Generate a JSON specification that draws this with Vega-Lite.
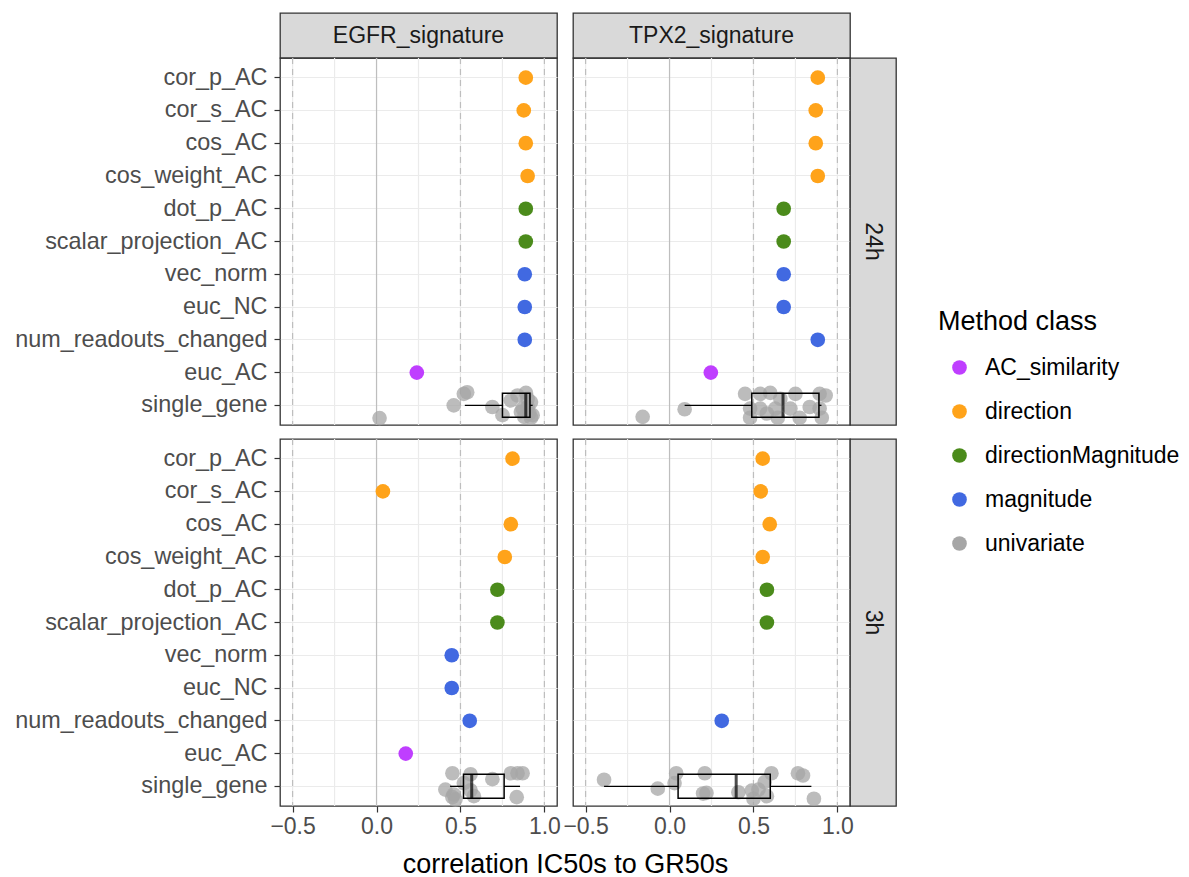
{
"$schema":"https://vega.github.io/schema/vega-lite/v6.json",
"padding":{"left":14,"top":12,"right":10,"bottom":5},
"datasets":{
"vl":[{"v":-0.5,"kind":"grid"},{"v":-0.25,"kind":"grid"},{"v":0,"kind":"grid"},{"v":0.25,"kind":"grid"},{"v":0.5,"kind":"grid"},{"v":0.75,"kind":"grid"},{"v":1,"kind":"grid"},{"v":0,"kind":"zero"},{"v":-0.5,"kind":"dashed"},{"v":0.5,"kind":"dashed"},{"v":1,"kind":"dashed"}],
"pts":[
{"sig":"EGFR","time":"24h","m":"cor_p_AC","c":"direction","r":0.889},
{"sig":"EGFR","time":"24h","m":"cor_s_AC","c":"direction","r":0.877},
{"sig":"EGFR","time":"24h","m":"cos_AC","c":"direction","r":0.889},
{"sig":"EGFR","time":"24h","m":"cos_weight_AC","c":"direction","r":0.900},
{"sig":"EGFR","time":"24h","m":"dot_p_AC","c":"directionMagnitude","r":0.889},
{"sig":"EGFR","time":"24h","m":"scalar_projection_AC","c":"directionMagnitude","r":0.889},
{"sig":"EGFR","time":"24h","m":"vec_norm","c":"magnitude","r":0.883},
{"sig":"EGFR","time":"24h","m":"euc_NC","c":"magnitude","r":0.883},
{"sig":"EGFR","time":"24h","m":"num_readouts_changed","c":"magnitude","r":0.883},
{"sig":"EGFR","time":"24h","m":"euc_AC","c":"AC_similarity","r":0.240},
{"sig":"TPX2","time":"24h","m":"cor_p_AC","c":"direction","r":0.883},
{"sig":"TPX2","time":"24h","m":"cor_s_AC","c":"direction","r":0.871},
{"sig":"TPX2","time":"24h","m":"cos_AC","c":"direction","r":0.871},
{"sig":"TPX2","time":"24h","m":"cos_weight_AC","c":"direction","r":0.883},
{"sig":"TPX2","time":"24h","m":"dot_p_AC","c":"directionMagnitude","r":0.680},
{"sig":"TPX2","time":"24h","m":"scalar_projection_AC","c":"directionMagnitude","r":0.680},
{"sig":"TPX2","time":"24h","m":"vec_norm","c":"magnitude","r":0.680},
{"sig":"TPX2","time":"24h","m":"euc_NC","c":"magnitude","r":0.680},
{"sig":"TPX2","time":"24h","m":"num_readouts_changed","c":"magnitude","r":0.883},
{"sig":"TPX2","time":"24h","m":"euc_AC","c":"AC_similarity","r":0.246},
{"sig":"EGFR","time":"3h","m":"cor_p_AC","c":"direction","r":0.810},
{"sig":"EGFR","time":"3h","m":"cor_s_AC","c":"direction","r":0.038},
{"sig":"EGFR","time":"3h","m":"cos_AC","c":"direction","r":0.800},
{"sig":"EGFR","time":"3h","m":"cos_weight_AC","c":"direction","r":0.764},
{"sig":"EGFR","time":"3h","m":"dot_p_AC","c":"directionMagnitude","r":0.720},
{"sig":"EGFR","time":"3h","m":"scalar_projection_AC","c":"directionMagnitude","r":0.720},
{"sig":"EGFR","time":"3h","m":"vec_norm","c":"magnitude","r":0.448},
{"sig":"EGFR","time":"3h","m":"euc_NC","c":"magnitude","r":0.448},
{"sig":"EGFR","time":"3h","m":"num_readouts_changed","c":"magnitude","r":0.555},
{"sig":"EGFR","time":"3h","m":"euc_AC","c":"AC_similarity","r":0.174},
{"sig":"TPX2","time":"3h","m":"cor_p_AC","c":"direction","r":0.555},
{"sig":"TPX2","time":"3h","m":"cor_s_AC","c":"direction","r":0.543},
{"sig":"TPX2","time":"3h","m":"cos_AC","c":"direction","r":0.597},
{"sig":"TPX2","time":"3h","m":"cos_weight_AC","c":"direction","r":0.555},
{"sig":"TPX2","time":"3h","m":"dot_p_AC","c":"directionMagnitude","r":0.580},
{"sig":"TPX2","time":"3h","m":"scalar_projection_AC","c":"directionMagnitude","r":0.580},
{"sig":"TPX2","time":"3h","m":"num_readouts_changed","c":"magnitude","r":0.311}
],
"sg":[
{"sig":"EGFR","time":"24h","m":"single_gene","c":"univariate","r":0.018,"j":0.39},
{"sig":"EGFR","time":"24h","m":"single_gene","c":"univariate","r":0.46,"j":0.0},
{"sig":"EGFR","time":"24h","m":"single_gene","c":"univariate","r":0.52,"j":-0.35},
{"sig":"EGFR","time":"24h","m":"single_gene","c":"univariate","r":0.54,"j":-0.4},
{"sig":"EGFR","time":"24h","m":"single_gene","c":"univariate","r":0.69,"j":0.05},
{"sig":"EGFR","time":"24h","m":"single_gene","c":"univariate","r":0.75,"j":0.3},
{"sig":"EGFR","time":"24h","m":"single_gene","c":"univariate","r":0.80,"j":-0.15},
{"sig":"EGFR","time":"24h","m":"single_gene","c":"univariate","r":0.84,"j":-0.3},
{"sig":"EGFR","time":"24h","m":"single_gene","c":"univariate","r":0.86,"j":0.2},
{"sig":"EGFR","time":"24h","m":"single_gene","c":"univariate","r":0.87,"j":0.1},
{"sig":"EGFR","time":"24h","m":"single_gene","c":"univariate","r":0.88,"j":0.35},
{"sig":"EGFR","time":"24h","m":"single_gene","c":"univariate","r":0.89,"j":-0.38},
{"sig":"EGFR","time":"24h","m":"single_gene","c":"univariate","r":0.90,"j":0.05},
{"sig":"EGFR","time":"24h","m":"single_gene","c":"univariate","r":0.90,"j":-0.2},
{"sig":"EGFR","time":"24h","m":"single_gene","c":"univariate","r":0.91,"j":0.25},
{"sig":"EGFR","time":"24h","m":"single_gene","c":"univariate","r":0.92,"j":-0.1},
{"sig":"EGFR","time":"24h","m":"single_gene","c":"univariate","r":0.92,"j":0.38},
{"sig":"EGFR","time":"24h","m":"single_gene","c":"univariate","r":0.93,"j":0.3},
{"sig":"TPX2","time":"24h","m":"single_gene","c":"univariate","r":-0.16,"j":0.35},
{"sig":"TPX2","time":"24h","m":"single_gene","c":"univariate","r":0.09,"j":0.12},
{"sig":"TPX2","time":"24h","m":"single_gene","c":"univariate","r":0.45,"j":-0.35},
{"sig":"TPX2","time":"24h","m":"single_gene","c":"univariate","r":0.48,"j":0.1},
{"sig":"TPX2","time":"24h","m":"single_gene","c":"univariate","r":0.48,"j":0.38},
{"sig":"TPX2","time":"24h","m":"single_gene","c":"univariate","r":0.54,"j":-0.35},
{"sig":"TPX2","time":"24h","m":"single_gene","c":"univariate","r":0.54,"j":0.1},
{"sig":"TPX2","time":"24h","m":"single_gene","c":"univariate","r":0.58,"j":0.25},
{"sig":"TPX2","time":"24h","m":"single_gene","c":"univariate","r":0.60,"j":-0.38},
{"sig":"TPX2","time":"24h","m":"single_gene","c":"univariate","r":0.63,"j":0.1},
{"sig":"TPX2","time":"24h","m":"single_gene","c":"univariate","r":0.645,"j":0.38},
{"sig":"TPX2","time":"24h","m":"single_gene","c":"univariate","r":0.66,"j":-0.2},
{"sig":"TPX2","time":"24h","m":"single_gene","c":"univariate","r":0.72,"j":0.1},
{"sig":"TPX2","time":"24h","m":"single_gene","c":"univariate","r":0.75,"j":-0.35},
{"sig":"TPX2","time":"24h","m":"single_gene","c":"univariate","r":0.775,"j":0.38},
{"sig":"TPX2","time":"24h","m":"single_gene","c":"univariate","r":0.835,"j":0.05},
{"sig":"TPX2","time":"24h","m":"single_gene","c":"univariate","r":0.894,"j":-0.35},
{"sig":"TPX2","time":"24h","m":"single_gene","c":"univariate","r":0.894,"j":0.1},
{"sig":"TPX2","time":"24h","m":"single_gene","c":"univariate","r":0.907,"j":0.38},
{"sig":"TPX2","time":"24h","m":"single_gene","c":"univariate","r":0.93,"j":-0.3},
{"sig":"EGFR","time":"3h","m":"single_gene","c":"univariate","r":0.41,"j":0.1},
{"sig":"EGFR","time":"3h","m":"single_gene","c":"univariate","r":0.452,"j":-0.4},
{"sig":"EGFR","time":"3h","m":"single_gene","c":"univariate","r":0.452,"j":0.33},
{"sig":"EGFR","time":"3h","m":"single_gene","c":"univariate","r":0.46,"j":0.25},
{"sig":"EGFR","time":"3h","m":"single_gene","c":"univariate","r":0.47,"j":0.4},
{"sig":"EGFR","time":"3h","m":"single_gene","c":"univariate","r":0.52,"j":-0.1},
{"sig":"EGFR","time":"3h","m":"single_gene","c":"univariate","r":0.56,"j":-0.37},
{"sig":"EGFR","time":"3h","m":"single_gene","c":"univariate","r":0.56,"j":0.12},
{"sig":"EGFR","time":"3h","m":"single_gene","c":"univariate","r":0.58,"j":0.3},
{"sig":"EGFR","time":"3h","m":"single_gene","c":"univariate","r":0.69,"j":-0.22},
{"sig":"EGFR","time":"3h","m":"single_gene","c":"univariate","r":0.80,"j":-0.4},
{"sig":"EGFR","time":"3h","m":"single_gene","c":"univariate","r":0.835,"j":0.33},
{"sig":"EGFR","time":"3h","m":"single_gene","c":"univariate","r":0.84,"j":-0.4},
{"sig":"EGFR","time":"3h","m":"single_gene","c":"univariate","r":0.87,"j":-0.4},
{"sig":"TPX2","time":"3h","m":"single_gene","c":"univariate","r":-0.39,"j":-0.2},
{"sig":"TPX2","time":"3h","m":"single_gene","c":"univariate","r":-0.07,"j":0.07},
{"sig":"TPX2","time":"3h","m":"single_gene","c":"univariate","r":0.03,"j":-0.1},
{"sig":"TPX2","time":"3h","m":"single_gene","c":"univariate","r":0.04,"j":-0.4},
{"sig":"TPX2","time":"3h","m":"single_gene","c":"univariate","r":0.20,"j":0.22},
{"sig":"TPX2","time":"3h","m":"single_gene","c":"univariate","r":0.21,"j":-0.4},
{"sig":"TPX2","time":"3h","m":"single_gene","c":"univariate","r":0.22,"j":0.2},
{"sig":"TPX2","time":"3h","m":"single_gene","c":"univariate","r":0.41,"j":0.18},
{"sig":"TPX2","time":"3h","m":"single_gene","c":"univariate","r":0.49,"j":0.13},
{"sig":"TPX2","time":"3h","m":"single_gene","c":"univariate","r":0.50,"j":0.38},
{"sig":"TPX2","time":"3h","m":"single_gene","c":"univariate","r":0.53,"j":0.1},
{"sig":"TPX2","time":"3h","m":"single_gene","c":"univariate","r":0.567,"j":-0.13},
{"sig":"TPX2","time":"3h","m":"single_gene","c":"univariate","r":0.58,"j":0.3},
{"sig":"TPX2","time":"3h","m":"single_gene","c":"univariate","r":0.607,"j":-0.4},
{"sig":"TPX2","time":"3h","m":"single_gene","c":"univariate","r":0.765,"j":-0.4},
{"sig":"TPX2","time":"3h","m":"single_gene","c":"univariate","r":0.795,"j":-0.33},
{"sig":"TPX2","time":"3h","m":"single_gene","c":"univariate","r":0.86,"j":0.38}
],
"box":[
{"sig":"EGFR","time":"24h","m":"single_gene","lo":0.526,"q1":0.75,"med":0.889,"q3":0.914,"hi":0.93},
{"sig":"TPX2","time":"24h","m":"single_gene","lo":0.09,"q1":0.49,"med":0.676,"q3":0.89,"hi":0.905},
{"sig":"EGFR","time":"3h","m":"single_gene","lo":0.438,"q1":0.518,"med":0.567,"q3":0.76,"hi":0.855},
{"sig":"TPX2","time":"3h","m":"single_gene","lo":-0.39,"q1":0.051,"med":0.397,"q3":0.60,"hi":0.845}
]
},
"columns":4,
"spacing":0,
"bounds":"flush",
"align":"each",
"concat":[
{"width":277,"height":45,"view":{"fill":"#D9D9D9","stroke":"#333333","strokeWidth":1.3},"data":{"values":[{"label":"EGFR_signature"}]},"mark":{"type":"text","fontSize":23,"color":"#1A1A1A"},"encoding":{"text":{"field":"label"}}},
{"width":16,"height":14,"view":{"stroke":null},"data":{"values":[{"e":""}]},"mark":{"type":"text"},"encoding":{"text":{"field":"e"}}},
{"width":277,"height":45,"view":{"fill":"#D9D9D9","stroke":"#333333","strokeWidth":1.3},"data":{"values":[{"label":"TPX2_signature"}]},"mark":{"type":"text","fontSize":23,"color":"#1A1A1A"},"encoding":{"text":{"field":"label"}}},
{"width":16,"height":14,"view":{"stroke":null},"data":{"values":[{"e":""}]},"mark":{"type":"text"},"encoding":{"text":{"field":"e"}}},

{"width":277,"height":367,"view":{"stroke":"#333333","strokeWidth":1.3},
"layer":[
{"data":{"name":"vl"},"transform":[{"filter":"datum.kind==='grid'"}],"mark":{"type":"rule","color":"#EBEBEB","strokeWidth":1.2},"encoding":{"x":{"field":"v","type":"quantitative","scale":{"domain":[-0.575,1.075],"nice":false,"zero":false},"axis":null}}},
{"data":{"name":"vl"},"transform":[{"filter":"datum.kind==='zero'"}],"mark":{"type":"rule","color":"#BEBEBE","strokeWidth":1.2},"encoding":{"x":{"field":"v","type":"quantitative","scale":{"domain":[-0.575,1.075],"nice":false,"zero":false},"axis":null}}},
{"data":{"name":"vl"},"transform":[{"filter":"datum.kind==='dashed'"}],"mark":{"type":"rule","color":"#BEBEBE","strokeWidth":1.2,"strokeDash":[6,5]},"encoding":{"x":{"field":"v","type":"quantitative","scale":{"domain":[-0.575,1.075],"nice":false,"zero":false},"axis":null}}},
{"data":{"name":"pts"},"transform":[{"filter":"datum.sig==='EGFR' && datum.time==='24h'"}],"mark":{"type":"circle","size":215,"opacity":1},"encoding":{"x":{"field":"r","type":"quantitative","scale":{"domain":[-0.575,1.075],"nice":false,"zero":false},"axis":null},"y":{"field":"m","type":"nominal","scale":{"type":"band","domain":["cor_p_AC","cor_s_AC","cos_AC","cos_weight_AC","dot_p_AC","scalar_projection_AC","vec_norm","euc_NC","num_readouts_changed","euc_AC","single_gene"],"paddingInner":0,"paddingOuter":0.1},"axis":{"title":null,"grid":true,"bandPosition":0.5}},"color":{"field":"c","type":"nominal","scale":{"domain":["AC_similarity","direction","directionMagnitude","magnitude","univariate"],"range":["#BF3EFF","#FFA31A","#4B8B1B","#4169E1","#A6A6A6"]},"legend":{"title":"Method class","orient":"none","legendX":658,"legendY":296}}}},
{"data":{"name":"sg"},"transform":[{"filter":"datum.sig==='EGFR' && datum.time==='24h'"}],"mark":{"type":"circle","size":215,"opacity":0.75},"encoding":{"x":{"field":"r","type":"quantitative","scale":{"domain":[-0.575,1.075],"nice":false,"zero":false},"axis":null},"y":{"field":"m","type":"nominal","scale":{"type":"band","domain":["cor_p_AC","cor_s_AC","cos_AC","cos_weight_AC","dot_p_AC","scalar_projection_AC","vec_norm","euc_NC","num_readouts_changed","euc_AC","single_gene"],"paddingInner":0,"paddingOuter":0.1},"axis":{"title":null,"grid":true,"bandPosition":0.5}},"yOffset":{"field":"j","type":"quantitative","scale":{"domain":[-0.5,0.5],"range":[0,32.77]}},"color":{"field":"c","type":"nominal","scale":{"domain":["AC_similarity","direction","directionMagnitude","magnitude","univariate"],"range":["#BF3EFF","#FFA31A","#4B8B1B","#4169E1","#A6A6A6"]},"legend":{"title":"Method class","orient":"none","legendX":658,"legendY":296}}}},
{"data":{"name":"box"},"transform":[{"filter":"datum.sig==='EGFR' && datum.time==='24h'"}],"mark":{"type":"rule","color":"#000000","strokeWidth":1.3},"encoding":{"x":{"field":"lo","type":"quantitative","scale":{"domain":[-0.575,1.075],"nice":false,"zero":false},"axis":null},"x2":{"field":"q1"},"y":{"field":"m","type":"nominal","scale":{"type":"band","domain":["cor_p_AC","cor_s_AC","cos_AC","cos_weight_AC","dot_p_AC","scalar_projection_AC","vec_norm","euc_NC","num_readouts_changed","euc_AC","single_gene"],"paddingInner":0,"paddingOuter":0.1},"axis":{"title":null,"grid":true,"bandPosition":0.5}}}},
{"data":{"name":"box"},"transform":[{"filter":"datum.sig==='EGFR' && datum.time==='24h'"}],"mark":{"type":"rule","color":"#000000","strokeWidth":1.3},"encoding":{"x":{"field":"q3","type":"quantitative","scale":{"domain":[-0.575,1.075],"nice":false,"zero":false},"axis":null},"x2":{"field":"hi"},"y":{"field":"m","type":"nominal","scale":{"type":"band","domain":["cor_p_AC","cor_s_AC","cos_AC","cos_weight_AC","dot_p_AC","scalar_projection_AC","vec_norm","euc_NC","num_readouts_changed","euc_AC","single_gene"],"paddingInner":0,"paddingOuter":0.1},"axis":{"title":null,"grid":true,"bandPosition":0.5}}}},
{"data":{"name":"box"},"transform":[{"filter":"datum.sig==='EGFR' && datum.time==='24h'"}],"mark":{"type":"bar","fill":"transparent","stroke":"#000000","strokeWidth":1.5,"size":24},"encoding":{"x":{"field":"q1","type":"quantitative","scale":{"domain":[-0.575,1.075],"nice":false,"zero":false},"axis":null},"x2":{"field":"q3"},"y":{"field":"m","type":"nominal","scale":{"type":"band","domain":["cor_p_AC","cor_s_AC","cos_AC","cos_weight_AC","dot_p_AC","scalar_projection_AC","vec_norm","euc_NC","num_readouts_changed","euc_AC","single_gene"],"paddingInner":0,"paddingOuter":0.1},"axis":{"title":null,"grid":true,"bandPosition":0.5}}}},
{"data":{"name":"box"},"transform":[{"filter":"datum.sig==='EGFR' && datum.time==='24h'"}],"mark":{"type":"tick","color":"#000000","thickness":3,"size":24},"encoding":{"x":{"field":"med","type":"quantitative","scale":{"domain":[-0.575,1.075],"nice":false,"zero":false},"axis":null},"y":{"field":"m","type":"nominal","scale":{"type":"band","domain":["cor_p_AC","cor_s_AC","cos_AC","cos_weight_AC","dot_p_AC","scalar_projection_AC","vec_norm","euc_NC","num_readouts_changed","euc_AC","single_gene"],"paddingInner":0,"paddingOuter":0.1},"axis":{"title":null,"grid":true,"bandPosition":0.5}}}}
]},

{"width":16,"height":14,"view":{"stroke":null},"data":{"values":[{"e":""}]},"mark":{"type":"text"},"encoding":{"text":{"field":"e"}}},

{"width":277,"height":367,"view":{"stroke":"#333333","strokeWidth":1.3},
"layer":[
{"data":{"name":"vl"},"transform":[{"filter":"datum.kind==='grid'"}],"mark":{"type":"rule","color":"#EBEBEB","strokeWidth":1.2},"encoding":{"x":{"field":"v","type":"quantitative","scale":{"domain":[-0.575,1.075],"nice":false,"zero":false},"axis":null}}},
{"data":{"name":"vl"},"transform":[{"filter":"datum.kind==='zero'"}],"mark":{"type":"rule","color":"#BEBEBE","strokeWidth":1.2},"encoding":{"x":{"field":"v","type":"quantitative","scale":{"domain":[-0.575,1.075],"nice":false,"zero":false},"axis":null}}},
{"data":{"name":"vl"},"transform":[{"filter":"datum.kind==='dashed'"}],"mark":{"type":"rule","color":"#BEBEBE","strokeWidth":1.2,"strokeDash":[6,5]},"encoding":{"x":{"field":"v","type":"quantitative","scale":{"domain":[-0.575,1.075],"nice":false,"zero":false},"axis":null}}},
{"data":{"name":"pts"},"transform":[{"filter":"datum.sig==='TPX2' && datum.time==='24h'"}],"mark":{"type":"circle","size":215,"opacity":1},"encoding":{"x":{"field":"r","type":"quantitative","scale":{"domain":[-0.575,1.075],"nice":false,"zero":false},"axis":null},"y":{"field":"m","type":"nominal","scale":{"type":"band","domain":["cor_p_AC","cor_s_AC","cos_AC","cos_weight_AC","dot_p_AC","scalar_projection_AC","vec_norm","euc_NC","num_readouts_changed","euc_AC","single_gene"],"paddingInner":0,"paddingOuter":0.1},"axis":{"title":null,"grid":true,"bandPosition":0.5,"labels":false,"ticks":false}},"color":{"field":"c","type":"nominal","scale":{"domain":["AC_similarity","direction","directionMagnitude","magnitude","univariate"],"range":["#BF3EFF","#FFA31A","#4B8B1B","#4169E1","#A6A6A6"]},"legend":{"title":"Method class","orient":"none","legendX":658,"legendY":296}}}},
{"data":{"name":"sg"},"transform":[{"filter":"datum.sig==='TPX2' && datum.time==='24h'"}],"mark":{"type":"circle","size":215,"opacity":0.75},"encoding":{"x":{"field":"r","type":"quantitative","scale":{"domain":[-0.575,1.075],"nice":false,"zero":false},"axis":null},"y":{"field":"m","type":"nominal","scale":{"type":"band","domain":["cor_p_AC","cor_s_AC","cos_AC","cos_weight_AC","dot_p_AC","scalar_projection_AC","vec_norm","euc_NC","num_readouts_changed","euc_AC","single_gene"],"paddingInner":0,"paddingOuter":0.1},"axis":{"title":null,"grid":true,"bandPosition":0.5,"labels":false,"ticks":false}},"yOffset":{"field":"j","type":"quantitative","scale":{"domain":[-0.5,0.5],"range":[0,32.77]}},"color":{"field":"c","type":"nominal","scale":{"domain":["AC_similarity","direction","directionMagnitude","magnitude","univariate"],"range":["#BF3EFF","#FFA31A","#4B8B1B","#4169E1","#A6A6A6"]},"legend":{"title":"Method class","orient":"none","legendX":658,"legendY":296}}}},
{"data":{"name":"box"},"transform":[{"filter":"datum.sig==='TPX2' && datum.time==='24h'"}],"mark":{"type":"rule","color":"#000000","strokeWidth":1.3},"encoding":{"x":{"field":"lo","type":"quantitative","scale":{"domain":[-0.575,1.075],"nice":false,"zero":false},"axis":null},"x2":{"field":"q1"},"y":{"field":"m","type":"nominal","scale":{"type":"band","domain":["cor_p_AC","cor_s_AC","cos_AC","cos_weight_AC","dot_p_AC","scalar_projection_AC","vec_norm","euc_NC","num_readouts_changed","euc_AC","single_gene"],"paddingInner":0,"paddingOuter":0.1},"axis":{"title":null,"grid":true,"bandPosition":0.5,"labels":false,"ticks":false}}}},
{"data":{"name":"box"},"transform":[{"filter":"datum.sig==='TPX2' && datum.time==='24h'"}],"mark":{"type":"rule","color":"#000000","strokeWidth":1.3},"encoding":{"x":{"field":"q3","type":"quantitative","scale":{"domain":[-0.575,1.075],"nice":false,"zero":false},"axis":null},"x2":{"field":"hi"},"y":{"field":"m","type":"nominal","scale":{"type":"band","domain":["cor_p_AC","cor_s_AC","cos_AC","cos_weight_AC","dot_p_AC","scalar_projection_AC","vec_norm","euc_NC","num_readouts_changed","euc_AC","single_gene"],"paddingInner":0,"paddingOuter":0.1},"axis":{"title":null,"grid":true,"bandPosition":0.5,"labels":false,"ticks":false}}}},
{"data":{"name":"box"},"transform":[{"filter":"datum.sig==='TPX2' && datum.time==='24h'"}],"mark":{"type":"bar","fill":"transparent","stroke":"#000000","strokeWidth":1.5,"size":24},"encoding":{"x":{"field":"q1","type":"quantitative","scale":{"domain":[-0.575,1.075],"nice":false,"zero":false},"axis":null},"x2":{"field":"q3"},"y":{"field":"m","type":"nominal","scale":{"type":"band","domain":["cor_p_AC","cor_s_AC","cos_AC","cos_weight_AC","dot_p_AC","scalar_projection_AC","vec_norm","euc_NC","num_readouts_changed","euc_AC","single_gene"],"paddingInner":0,"paddingOuter":0.1},"axis":{"title":null,"grid":true,"bandPosition":0.5,"labels":false,"ticks":false}}}},
{"data":{"name":"box"},"transform":[{"filter":"datum.sig==='TPX2' && datum.time==='24h'"}],"mark":{"type":"tick","color":"#000000","thickness":3,"size":24},"encoding":{"x":{"field":"med","type":"quantitative","scale":{"domain":[-0.575,1.075],"nice":false,"zero":false},"axis":null},"y":{"field":"m","type":"nominal","scale":{"type":"band","domain":["cor_p_AC","cor_s_AC","cos_AC","cos_weight_AC","dot_p_AC","scalar_projection_AC","vec_norm","euc_NC","num_readouts_changed","euc_AC","single_gene"],"paddingInner":0,"paddingOuter":0.1},"axis":{"title":null,"grid":true,"bandPosition":0.5,"labels":false,"ticks":false}}}}
]},

{"width":46,"height":367,"view":{"fill":"#D9D9D9","stroke":"#333333","strokeWidth":1.3},"data":{"values":[{"label":"24h"}]},"mark":{"type":"text","fontSize":23,"color":"#1A1A1A","angle":90},"encoding":{"text":{"field":"label"}}},

{"width":16,"height":14,"view":{"stroke":null},"data":{"values":[{"e":""}]},"mark":{"type":"text"},"encoding":{"text":{"field":"e"}}},
{"width":16,"height":14,"view":{"stroke":null},"data":{"values":[{"e":""}]},"mark":{"type":"text"},"encoding":{"text":{"field":"e"}}},
{"width":16,"height":14,"view":{"stroke":null},"data":{"values":[{"e":""}]},"mark":{"type":"text"},"encoding":{"text":{"field":"e"}}},
{"width":16,"height":14,"view":{"stroke":null},"data":{"values":[{"e":""}]},"mark":{"type":"text"},"encoding":{"text":{"field":"e"}}},

{"width":277,"height":367,"view":{"stroke":"#333333","strokeWidth":1.3},
"layer":[
{"data":{"name":"vl"},"transform":[{"filter":"datum.kind==='grid'"}],"mark":{"type":"rule","color":"#EBEBEB","strokeWidth":1.2},"encoding":{"x":{"field":"v","type":"quantitative","scale":{"domain":[-0.575,1.075],"nice":false,"zero":false},"axis":{"values":[-0.5,0,0.5,1],"format":".1f","grid":false,"title":"correlation IC50s to GR50s","titleX":285,"titleY":66,"titleAlign":"center","titleBaseline":"alphabetic"}}}},
{"data":{"name":"vl"},"transform":[{"filter":"datum.kind==='zero'"}],"mark":{"type":"rule","color":"#BEBEBE","strokeWidth":1.2},"encoding":{"x":{"field":"v","type":"quantitative","scale":{"domain":[-0.575,1.075],"nice":false,"zero":false},"axis":{"values":[-0.5,0,0.5,1],"format":".1f","grid":false,"title":"correlation IC50s to GR50s","titleX":285,"titleY":66,"titleAlign":"center","titleBaseline":"alphabetic"}}}},
{"data":{"name":"vl"},"transform":[{"filter":"datum.kind==='dashed'"}],"mark":{"type":"rule","color":"#BEBEBE","strokeWidth":1.2,"strokeDash":[6,5]},"encoding":{"x":{"field":"v","type":"quantitative","scale":{"domain":[-0.575,1.075],"nice":false,"zero":false},"axis":{"values":[-0.5,0,0.5,1],"format":".1f","grid":false,"title":"correlation IC50s to GR50s","titleX":285,"titleY":66,"titleAlign":"center","titleBaseline":"alphabetic"}}}},
{"data":{"name":"pts"},"transform":[{"filter":"datum.sig==='EGFR' && datum.time==='3h'"}],"mark":{"type":"circle","size":215,"opacity":1},"encoding":{"x":{"field":"r","type":"quantitative","scale":{"domain":[-0.575,1.075],"nice":false,"zero":false},"axis":{"values":[-0.5,0,0.5,1],"format":".1f","grid":false,"title":"correlation IC50s to GR50s","titleX":285,"titleY":66,"titleAlign":"center","titleBaseline":"alphabetic"}},"y":{"field":"m","type":"nominal","scale":{"type":"band","domain":["cor_p_AC","cor_s_AC","cos_AC","cos_weight_AC","dot_p_AC","scalar_projection_AC","vec_norm","euc_NC","num_readouts_changed","euc_AC","single_gene"],"paddingInner":0,"paddingOuter":0.1},"axis":{"title":null,"grid":true,"bandPosition":0.5}},"color":{"field":"c","type":"nominal","scale":{"domain":["AC_similarity","direction","directionMagnitude","magnitude","univariate"],"range":["#BF3EFF","#FFA31A","#4B8B1B","#4169E1","#A6A6A6"]},"legend":{"title":"Method class","orient":"none","legendX":658,"legendY":296}}}},
{"data":{"name":"sg"},"transform":[{"filter":"datum.sig==='EGFR' && datum.time==='3h'"}],"mark":{"type":"circle","size":215,"opacity":0.75},"encoding":{"x":{"field":"r","type":"quantitative","scale":{"domain":[-0.575,1.075],"nice":false,"zero":false},"axis":{"values":[-0.5,0,0.5,1],"format":".1f","grid":false,"title":"correlation IC50s to GR50s","titleX":285,"titleY":66,"titleAlign":"center","titleBaseline":"alphabetic"}},"y":{"field":"m","type":"nominal","scale":{"type":"band","domain":["cor_p_AC","cor_s_AC","cos_AC","cos_weight_AC","dot_p_AC","scalar_projection_AC","vec_norm","euc_NC","num_readouts_changed","euc_AC","single_gene"],"paddingInner":0,"paddingOuter":0.1},"axis":{"title":null,"grid":true,"bandPosition":0.5}},"yOffset":{"field":"j","type":"quantitative","scale":{"domain":[-0.5,0.5],"range":[0,32.77]}},"color":{"field":"c","type":"nominal","scale":{"domain":["AC_similarity","direction","directionMagnitude","magnitude","univariate"],"range":["#BF3EFF","#FFA31A","#4B8B1B","#4169E1","#A6A6A6"]},"legend":{"title":"Method class","orient":"none","legendX":658,"legendY":296}}}},
{"data":{"name":"box"},"transform":[{"filter":"datum.sig==='EGFR' && datum.time==='3h'"}],"mark":{"type":"rule","color":"#000000","strokeWidth":1.3},"encoding":{"x":{"field":"lo","type":"quantitative","scale":{"domain":[-0.575,1.075],"nice":false,"zero":false},"axis":{"values":[-0.5,0,0.5,1],"format":".1f","grid":false,"title":"correlation IC50s to GR50s","titleX":285,"titleY":66,"titleAlign":"center","titleBaseline":"alphabetic"}},"x2":{"field":"q1"},"y":{"field":"m","type":"nominal","scale":{"type":"band","domain":["cor_p_AC","cor_s_AC","cos_AC","cos_weight_AC","dot_p_AC","scalar_projection_AC","vec_norm","euc_NC","num_readouts_changed","euc_AC","single_gene"],"paddingInner":0,"paddingOuter":0.1},"axis":{"title":null,"grid":true,"bandPosition":0.5}}}},
{"data":{"name":"box"},"transform":[{"filter":"datum.sig==='EGFR' && datum.time==='3h'"}],"mark":{"type":"rule","color":"#000000","strokeWidth":1.3},"encoding":{"x":{"field":"q3","type":"quantitative","scale":{"domain":[-0.575,1.075],"nice":false,"zero":false},"axis":{"values":[-0.5,0,0.5,1],"format":".1f","grid":false,"title":"correlation IC50s to GR50s","titleX":285,"titleY":66,"titleAlign":"center","titleBaseline":"alphabetic"}},"x2":{"field":"hi"},"y":{"field":"m","type":"nominal","scale":{"type":"band","domain":["cor_p_AC","cor_s_AC","cos_AC","cos_weight_AC","dot_p_AC","scalar_projection_AC","vec_norm","euc_NC","num_readouts_changed","euc_AC","single_gene"],"paddingInner":0,"paddingOuter":0.1},"axis":{"title":null,"grid":true,"bandPosition":0.5}}}},
{"data":{"name":"box"},"transform":[{"filter":"datum.sig==='EGFR' && datum.time==='3h'"}],"mark":{"type":"bar","fill":"transparent","stroke":"#000000","strokeWidth":1.5,"size":24},"encoding":{"x":{"field":"q1","type":"quantitative","scale":{"domain":[-0.575,1.075],"nice":false,"zero":false},"axis":{"values":[-0.5,0,0.5,1],"format":".1f","grid":false,"title":"correlation IC50s to GR50s","titleX":285,"titleY":66,"titleAlign":"center","titleBaseline":"alphabetic"}},"x2":{"field":"q3"},"y":{"field":"m","type":"nominal","scale":{"type":"band","domain":["cor_p_AC","cor_s_AC","cos_AC","cos_weight_AC","dot_p_AC","scalar_projection_AC","vec_norm","euc_NC","num_readouts_changed","euc_AC","single_gene"],"paddingInner":0,"paddingOuter":0.1},"axis":{"title":null,"grid":true,"bandPosition":0.5}}}},
{"data":{"name":"box"},"transform":[{"filter":"datum.sig==='EGFR' && datum.time==='3h'"}],"mark":{"type":"tick","color":"#000000","thickness":3,"size":24},"encoding":{"x":{"field":"med","type":"quantitative","scale":{"domain":[-0.575,1.075],"nice":false,"zero":false},"axis":{"values":[-0.5,0,0.5,1],"format":".1f","grid":false,"title":"correlation IC50s to GR50s","titleX":285,"titleY":66,"titleAlign":"center","titleBaseline":"alphabetic"}},"y":{"field":"m","type":"nominal","scale":{"type":"band","domain":["cor_p_AC","cor_s_AC","cos_AC","cos_weight_AC","dot_p_AC","scalar_projection_AC","vec_norm","euc_NC","num_readouts_changed","euc_AC","single_gene"],"paddingInner":0,"paddingOuter":0.1},"axis":{"title":null,"grid":true,"bandPosition":0.5}}}}
]},

{"width":16,"height":14,"view":{"stroke":null},"data":{"values":[{"e":""}]},"mark":{"type":"text"},"encoding":{"text":{"field":"e"}}},

{"width":277,"height":367,"view":{"stroke":"#333333","strokeWidth":1.3},
"layer":[
{"data":{"name":"vl"},"transform":[{"filter":"datum.kind==='grid'"}],"mark":{"type":"rule","color":"#EBEBEB","strokeWidth":1.2},"encoding":{"x":{"field":"v","type":"quantitative","scale":{"domain":[-0.575,1.075],"nice":false,"zero":false},"axis":{"values":[-0.5,0,0.5,1],"format":".1f","grid":false,"title":null}}}},
{"data":{"name":"vl"},"transform":[{"filter":"datum.kind==='zero'"}],"mark":{"type":"rule","color":"#BEBEBE","strokeWidth":1.2},"encoding":{"x":{"field":"v","type":"quantitative","scale":{"domain":[-0.575,1.075],"nice":false,"zero":false},"axis":{"values":[-0.5,0,0.5,1],"format":".1f","grid":false,"title":null}}}},
{"data":{"name":"vl"},"transform":[{"filter":"datum.kind==='dashed'"}],"mark":{"type":"rule","color":"#BEBEBE","strokeWidth":1.2,"strokeDash":[6,5]},"encoding":{"x":{"field":"v","type":"quantitative","scale":{"domain":[-0.575,1.075],"nice":false,"zero":false},"axis":{"values":[-0.5,0,0.5,1],"format":".1f","grid":false,"title":null}}}},
{"data":{"name":"pts"},"transform":[{"filter":"datum.sig==='TPX2' && datum.time==='3h'"}],"mark":{"type":"circle","size":215,"opacity":1},"encoding":{"x":{"field":"r","type":"quantitative","scale":{"domain":[-0.575,1.075],"nice":false,"zero":false},"axis":{"values":[-0.5,0,0.5,1],"format":".1f","grid":false,"title":null}},"y":{"field":"m","type":"nominal","scale":{"type":"band","domain":["cor_p_AC","cor_s_AC","cos_AC","cos_weight_AC","dot_p_AC","scalar_projection_AC","vec_norm","euc_NC","num_readouts_changed","euc_AC","single_gene"],"paddingInner":0,"paddingOuter":0.1},"axis":{"title":null,"grid":true,"bandPosition":0.5,"labels":false,"ticks":false}},"color":{"field":"c","type":"nominal","scale":{"domain":["AC_similarity","direction","directionMagnitude","magnitude","univariate"],"range":["#BF3EFF","#FFA31A","#4B8B1B","#4169E1","#A6A6A6"]},"legend":{"title":"Method class","orient":"none","legendX":658,"legendY":296}}}},
{"data":{"name":"sg"},"transform":[{"filter":"datum.sig==='TPX2' && datum.time==='3h'"}],"mark":{"type":"circle","size":215,"opacity":0.75},"encoding":{"x":{"field":"r","type":"quantitative","scale":{"domain":[-0.575,1.075],"nice":false,"zero":false},"axis":{"values":[-0.5,0,0.5,1],"format":".1f","grid":false,"title":null}},"y":{"field":"m","type":"nominal","scale":{"type":"band","domain":["cor_p_AC","cor_s_AC","cos_AC","cos_weight_AC","dot_p_AC","scalar_projection_AC","vec_norm","euc_NC","num_readouts_changed","euc_AC","single_gene"],"paddingInner":0,"paddingOuter":0.1},"axis":{"title":null,"grid":true,"bandPosition":0.5,"labels":false,"ticks":false}},"yOffset":{"field":"j","type":"quantitative","scale":{"domain":[-0.5,0.5],"range":[0,32.77]}},"color":{"field":"c","type":"nominal","scale":{"domain":["AC_similarity","direction","directionMagnitude","magnitude","univariate"],"range":["#BF3EFF","#FFA31A","#4B8B1B","#4169E1","#A6A6A6"]},"legend":{"title":"Method class","orient":"none","legendX":658,"legendY":296}}}},
{"data":{"name":"box"},"transform":[{"filter":"datum.sig==='TPX2' && datum.time==='3h'"}],"mark":{"type":"rule","color":"#000000","strokeWidth":1.3},"encoding":{"x":{"field":"lo","type":"quantitative","scale":{"domain":[-0.575,1.075],"nice":false,"zero":false},"axis":{"values":[-0.5,0,0.5,1],"format":".1f","grid":false,"title":null}},"x2":{"field":"q1"},"y":{"field":"m","type":"nominal","scale":{"type":"band","domain":["cor_p_AC","cor_s_AC","cos_AC","cos_weight_AC","dot_p_AC","scalar_projection_AC","vec_norm","euc_NC","num_readouts_changed","euc_AC","single_gene"],"paddingInner":0,"paddingOuter":0.1},"axis":{"title":null,"grid":true,"bandPosition":0.5,"labels":false,"ticks":false}}}},
{"data":{"name":"box"},"transform":[{"filter":"datum.sig==='TPX2' && datum.time==='3h'"}],"mark":{"type":"rule","color":"#000000","strokeWidth":1.3},"encoding":{"x":{"field":"q3","type":"quantitative","scale":{"domain":[-0.575,1.075],"nice":false,"zero":false},"axis":{"values":[-0.5,0,0.5,1],"format":".1f","grid":false,"title":null}},"x2":{"field":"hi"},"y":{"field":"m","type":"nominal","scale":{"type":"band","domain":["cor_p_AC","cor_s_AC","cos_AC","cos_weight_AC","dot_p_AC","scalar_projection_AC","vec_norm","euc_NC","num_readouts_changed","euc_AC","single_gene"],"paddingInner":0,"paddingOuter":0.1},"axis":{"title":null,"grid":true,"bandPosition":0.5,"labels":false,"ticks":false}}}},
{"data":{"name":"box"},"transform":[{"filter":"datum.sig==='TPX2' && datum.time==='3h'"}],"mark":{"type":"bar","fill":"transparent","stroke":"#000000","strokeWidth":1.5,"size":24},"encoding":{"x":{"field":"q1","type":"quantitative","scale":{"domain":[-0.575,1.075],"nice":false,"zero":false},"axis":{"values":[-0.5,0,0.5,1],"format":".1f","grid":false,"title":null}},"x2":{"field":"q3"},"y":{"field":"m","type":"nominal","scale":{"type":"band","domain":["cor_p_AC","cor_s_AC","cos_AC","cos_weight_AC","dot_p_AC","scalar_projection_AC","vec_norm","euc_NC","num_readouts_changed","euc_AC","single_gene"],"paddingInner":0,"paddingOuter":0.1},"axis":{"title":null,"grid":true,"bandPosition":0.5,"labels":false,"ticks":false}}}},
{"data":{"name":"box"},"transform":[{"filter":"datum.sig==='TPX2' && datum.time==='3h'"}],"mark":{"type":"tick","color":"#000000","thickness":3,"size":24},"encoding":{"x":{"field":"med","type":"quantitative","scale":{"domain":[-0.575,1.075],"nice":false,"zero":false},"axis":{"values":[-0.5,0,0.5,1],"format":".1f","grid":false,"title":null}},"y":{"field":"m","type":"nominal","scale":{"type":"band","domain":["cor_p_AC","cor_s_AC","cos_AC","cos_weight_AC","dot_p_AC","scalar_projection_AC","vec_norm","euc_NC","num_readouts_changed","euc_AC","single_gene"],"paddingInner":0,"paddingOuter":0.1},"axis":{"title":null,"grid":true,"bandPosition":0.5,"labels":false,"ticks":false}}}}
]},

{"width":46,"height":367,"view":{"fill":"#D9D9D9","stroke":"#333333","strokeWidth":1.3},"data":{"values":[{"label":"3h"}]},"mark":{"type":"text","fontSize":23,"color":"#1A1A1A","angle":90},"encoding":{"text":{"field":"label"}}}
],
"config":{
"font":"Liberation Sans",
"axis":{"labelFont":"Liberation Sans","labelColor":"#4D4D4D","tickColor":"#333333","tickSize":6,"tickWidth":1.2,"domain":false,"gridColor":"#EBEBEB","gridWidth":1.2,"titleFont":"Liberation Sans","titleFontSize":27,"titleFontWeight":"normal","titleColor":"#000000","labelLimit":400},
"axisX":{"labelFontSize":23,"labelPadding":3},
"axisY":{"labelFontSize":23.4,"labelPadding":7},
"legend":{"titleFont":"Liberation Sans","titleFontSize":27,"titleFontWeight":"normal","titleColor":"#000000","labelFont":"Liberation Sans","labelFontSize":23,"labelColor":"#000000","labelLimit":400,"symbolSize":215,"symbolType":"circle","rowPadding":20,"titlePadding":20,"labelOffset":14,"symbolOffset":10,"symbolStrokeWidth":0}
}
}
